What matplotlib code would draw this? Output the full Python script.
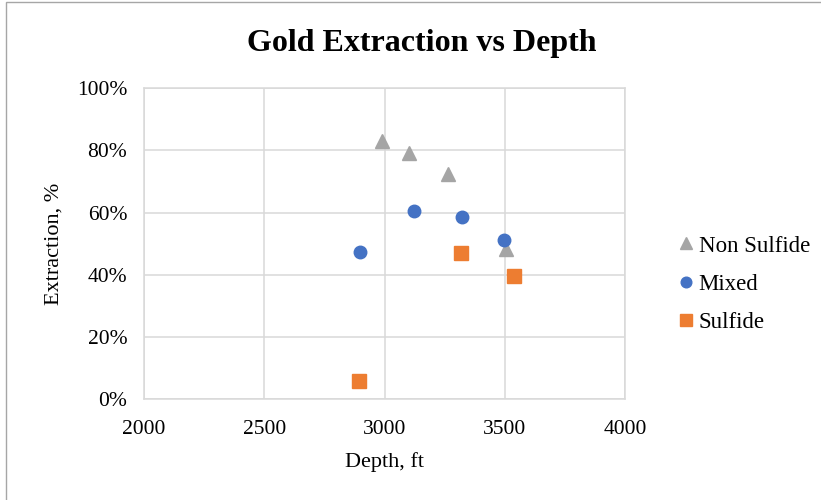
import matplotlib
matplotlib.use("Agg")
import matplotlib.pyplot as plt
import matplotlib.ticker as ticker
from matplotlib.patches import Rectangle

# depth (ft) and gold extraction (%) by ore type
nonsulfide_depth = [2990, 3100, 3265, 3507]
nonsulfide_ext = [83.0, 79.1, 72.3, 48.2]
mixed_depth = [2897, 3123, 3321, 3496]
mixed_ext = [47.2, 60.6, 58.6, 51.1]
sulfide_depth = [2894, 3319, 3538]
sulfide_ext = [5.7, 47.1, 39.6]

x_ticks = [2000, 2500, 3000, 3500, 4000]
y_ticks = [0, 20, 40, 60, 80, 100]

plt.rcParams['font.family'] = ['Liberation Serif', 'DejaVu Serif']
grid_col = "#d9d9d9"

fig = plt.figure(figsize=(8.21, 5.0), dpi=100)
ax = fig.add_axes([144 / 821, 1 - 399 / 500, 481 / 821, 310.7 / 500])

ax.plot(nonsulfide_depth, nonsulfide_ext, linestyle="none", marker="^",
        markersize=10.5, color="#a5a5a5", label="Non Sulfide", zorder=3)
ax.plot(mixed_depth, mixed_ext, linestyle="none", marker="o",
        markersize=9, color="#4472c4", label="Mixed", zorder=3)
ax.plot(sulfide_depth, sulfide_ext, linestyle="none", marker="s",
        markersize=10, color="#ed7d31", label="Sulfide", zorder=3)

ax.set_xlim(2000, 4000)
ax.set_ylim(0, 100)
ax.set_xticks(x_ticks)
ax.set_yticks(y_ticks)
ax.yaxis.set_major_formatter(ticker.FuncFormatter(lambda v, p: f"{v:.0f}%"))
ax.tick_params(length=0, labelsize=15.5, colors="black")
ax.tick_params(axis="x", pad=15)
ax.tick_params(axis="y", pad=12)
ax.grid(True, color=grid_col, linewidth=1.1)
ax.set_axisbelow(True)
for s in ax.spines.values():
    s.set_color(grid_col)
    s.set_linewidth(1.1)

ax.set_xlabel("Depth, ft", fontsize=16, labelpad=9.5)
ax.set_ylabel("Extraction, %", fontsize=16, labelpad=10)
fig.text(422 / 821, 1 - 44 / 500, "Gold Extraction vs Depth",
         ha="center", va="center", fontsize=23, fontweight="bold")

fig.legend(loc="center left", bbox_to_anchor=(669 / 821, 1 - 284 / 500),
           frameon=False, fontsize=16.5, handlelength=0.7, handletextpad=0.2,
           labelspacing=0.74, markerscale=0.85, borderaxespad=0)

# chart frame
fig.patches.append(Rectangle((6 / 821, -0.01), 1.0, 1 - 2 / 500 + 0.01,
                             transform=fig.transFigure, fill=False,
                             edgecolor="#a6a6a6", linewidth=1.0))

fig.savefig("out.png", dpi=100)
